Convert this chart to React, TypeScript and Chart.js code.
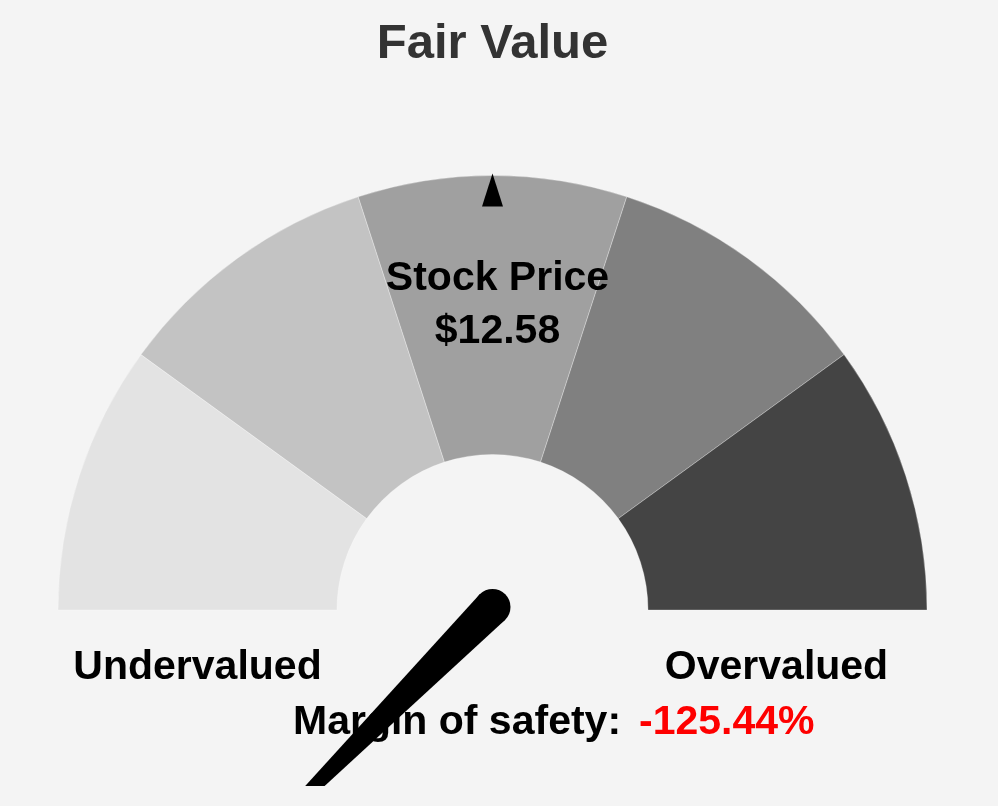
import React, { useEffect, useRef } from 'react';
import { Chart, registerables } from 'chart.js';

Chart.register(...registerables);

// ---- data ----
const segmentLabels = ['Very undervalued', 'Undervalued', 'Fair', 'Overvalued', 'Very overvalued'];
const segmentValues = [1, 1, 1, 1, 1];
const segmentColors = ['#e3e3e3', '#c3c3c3', '#a0a0a0', '#808080', '#444444'];
const titleText = 'Fair Value';
const priceLabel = 'Stock Price';
const priceText = '$12.58';
const priceMarkerValue = 2.5; // on the 0..5 gauge scale
const needleValue = -1.2544; // on the 0..5 gauge scale (below the range)
const leftLabel = 'Undervalued';
const rightLabel = 'Overvalued';
const marginLabel = 'Margin of safety:';
const marginText = '-125.44%';

const FONT = '"Liberation Sans", Arial, Helvetica, sans-serif';
const BG = '#f4f4f4';

const overlayPlugin = {
  id: 'gaugeOverlay',
  afterDraw(chart: any) {
    const ctx = chart.ctx as CanvasRenderingContext2D;
    const meta = chart.getDatasetMeta(0);
    const arc: any = meta.data[0];
    if (!arc) return;
    const { x: cx, y: cy, outerRadius } = arc.getProps(['x', 'y', 'outerRadius'], true);
    const total = segmentValues.reduce((a, b) => a + b, 0);
    const startA = -Math.PI;
    const span = Math.PI;
    const angleOf = (v: number) => startA + (v / total) * span;

    ctx.save();
    // title
    ctx.fillStyle = '#333333';
    ctx.font = `bold 49px ${FONT}`;
    ctx.textAlign = 'center';
    ctx.textBaseline = 'alphabetic';
    ctx.fillText(titleText, cx, 58);

    // price marker triangle
    const pa = angleOf(priceMarkerValue);
    const ux = Math.cos(pa), uy = Math.sin(pa);
    const px = -uy, py = ux;
    const tipR = outerRadius + 2;
    const baseR = outerRadius - 31;
    ctx.fillStyle = '#000';
    ctx.beginPath();
    ctx.moveTo(cx + ux * tipR, cy + uy * tipR);
    ctx.lineTo(cx + ux * baseR + px * 10.5, cy + uy * baseR + py * 10.5);
    ctx.lineTo(cx + ux * baseR - px * 10.5, cy + uy * baseR - py * 10.5);
    ctx.closePath();
    ctx.fill();

    // price text
    ctx.font = `bold 41px ${FONT}`;
    ctx.fillStyle = '#000';
    ctx.fillText(priceLabel, cx + 5, cy - 320);
    ctx.fillText(priceText, cx + 5, cy - 267);

    // side labels
    ctx.fillText(leftLabel, cx - 295, cy + 69);
    ctx.fillText(rightLabel, cx + 284, cy + 69);

    // margin of safety
    ctx.textAlign = 'left';
    const mx = 293;
    const my = cy + 124;
    ctx.fillText(marginLabel, mx, my);
    const w = ctx.measureText(marginLabel).width;
    ctx.fillStyle = '#fe0000';
    ctx.fillText(marginText, mx + w + 18, my);

    // needle
    const na = angleOf(needleValue);
    const nx = Math.cos(na), ny = Math.sin(na);
    const qx = -ny, qy = nx;
    const pcx = cx, pcy = cy - 3;
    const nr = 18;
    const len = outerRadius * 0.94;
    ctx.fillStyle = '#000';
    ctx.beginPath();
    ctx.moveTo(pcx + qx * nr, pcy + qy * nr);
    ctx.lineTo(pcx + nx * len, pcy + ny * len);
    ctx.lineTo(pcx - qx * nr, pcy - qy * nr);
    ctx.closePath();
    ctx.fill();
    ctx.beginPath();
    ctx.arc(pcx, pcy, nr, 0, Math.PI * 2);
    ctx.fill();
    ctx.restore();
  },
};

export default function App() {
  const ref = useRef<HTMLCanvasElement | null>(null);
  useEffect(() => {
    document.body.style.margin = '0';
    document.body.style.background = BG;
    const canvas = ref.current;
    if (!canvas) return;
    const chart = new Chart(canvas, {
      type: 'doughnut',
      data: {
        labels: segmentLabels,
        datasets: [
          {
            data: segmentValues,
            backgroundColor: segmentColors,
            borderColor: 'rgba(255,255,255,0.3)',
            borderWidth: 1,
          },
        ],
      },
      options: {
        responsive: false,
        animation: false,
        events: [],
        rotation: -90,
        circumference: 180,
        cutout: '35.79%',
        radius: 434.5,
        layout: { padding: { left: 0, right: 13, top: 0, bottom: 0.5 } },
        plugins: {
          legend: { display: false },
          title: { display: false },
          tooltip: { enabled: false },
        },
      },
      plugins: [overlayPlugin],
    });
    return () => chart.destroy();
  }, []);
  return (
    <div style={{ width: 998, height: 806, background: BG }}>
      <canvas ref={ref} width={998} height={786} style={{ display: 'block' }} />
    </div>
  );
}
